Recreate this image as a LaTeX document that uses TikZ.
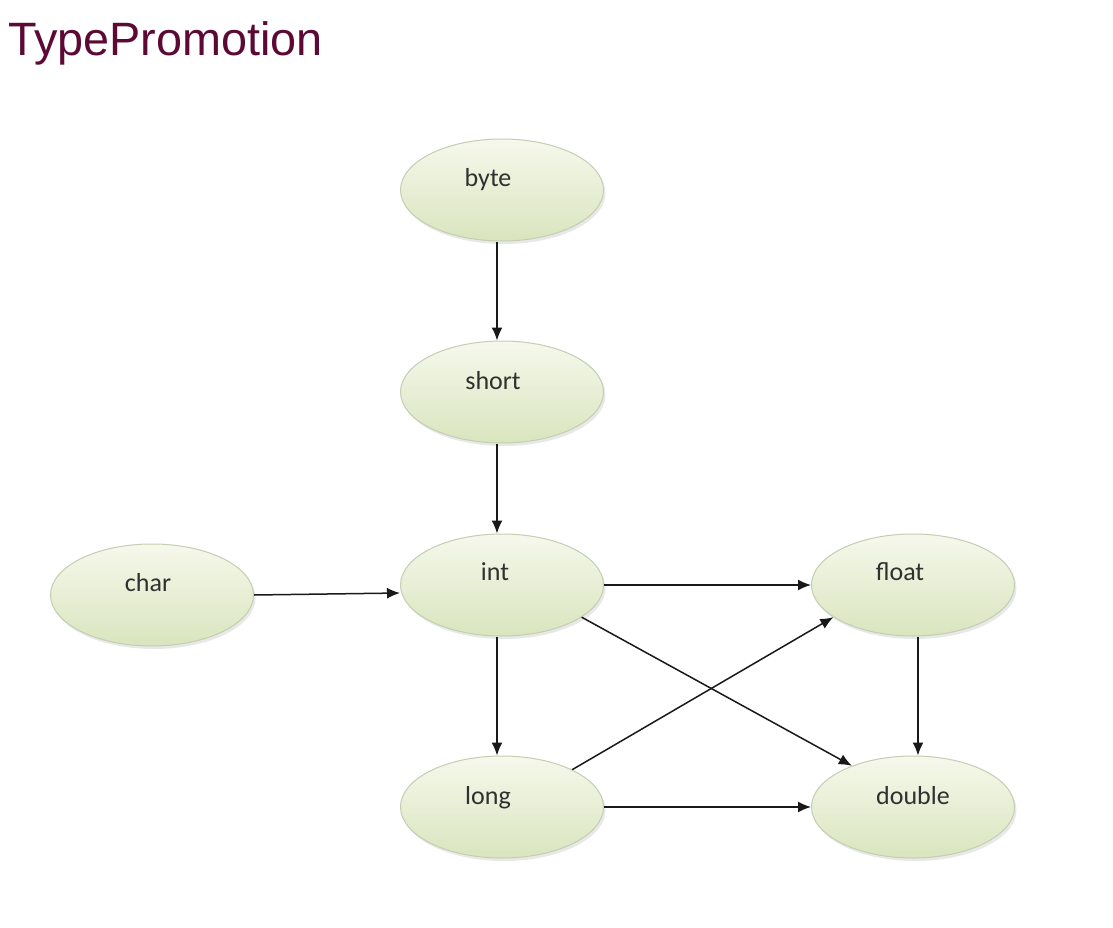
\documentclass[tikz,border=0pt]{standalone}
\usepackage{fontspec}
\setmainfont{Carlito}
\newfontfamily\titlefont{Liberation Sans}
\usetikzlibrary{shapes.geometric,arrows.meta,shadows}
\definecolor{titlecol}{HTML}{5C0A35}
\definecolor{elltop}{HTML}{F6F8EC}
\definecolor{ellbot}{HTML}{D9E5BE}
\definecolor{ellline}{HTML}{C4CEB0}
\definecolor{txtcol}{HTML}{303030}
\tikzset{
  typenode/.style={ellipse, minimum width=203pt, minimum height=102pt, inner sep=0pt,
    top color=elltop, bottom color=ellbot, draw=ellline, line width=1pt,
    drop shadow={opacity=0.18, shadow xshift=2pt, shadow yshift=-3pt},
    text=txtcol, font=\fontsize{26}{28}\selectfont},
  arr/.style={-{Latex[length=13pt,width=11pt]}, line width=1.5pt, draw=black!90},
  lbl/.style={text=txtcol, font=\fontsize{26}{28}\selectfont, anchor=base}
}
\begin{document}
\begin{tikzpicture}[x=1pt,y=-1pt]
\useasboundingbox[fill=white] (0,0) rectangle (1113,928);
\node[anchor=base west, text=titlecol, inner sep=0pt, font=\titlefont\fontsize{46.8}{50}\selectfont] (title) at (8,56) {TypePromotion};

\node[typenode] (byte) at (502,190) {};
\node[typenode] (short) at (502,392) {};
\node[typenode] (char) at (152,595) {};
\node[typenode] (int) at (502,585) {};
\node[typenode] (float) at (913,585) {};
\node[typenode] (long) at (502,807) {};
\node[typenode] (double) at (913,807) {};

\node[lbl] (tbyte) at (488,186) {byte};
\node[lbl] (tshort) at (493,389) {short};
\node[lbl] (tchar) at (148,591) {char};
\node[lbl] (tint) at (495,580) {int};
\node[lbl] (tfloat) at (900,580) {float};
\node[lbl] (tlong) at (488,804) {long};
\node[lbl] (tdouble) at (913,804) {double};

\draw[arr] ([xshift=-5pt]byte.south) -- ([xshift=-5pt]short.north);
\draw[arr] ([xshift=-5pt]short.south) -- ([xshift=-5pt]int.north);
\draw[arr] (char.east) -- ([yshift=-8pt]int.west);
\draw[arr] (int.east) -- (float.west);
\draw[arr] (int.-22) -- (double.146);
\draw[arr] ([xshift=-5pt]int.south) -- ([xshift=-5pt]long.north);
\draw[arr] (long.28) -- (float.202);
\draw[arr] (long.east) -- (double.west);
\draw[arr] ([xshift=5pt]float.south) -- ([xshift=5pt]double.north);
\end{tikzpicture}
\end{document}
